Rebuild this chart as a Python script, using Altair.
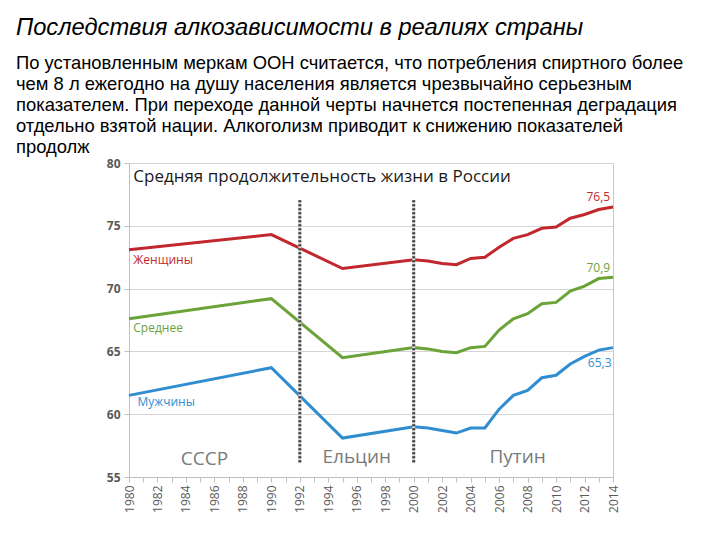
import altair as alt
import pandas as pd

# ---- data ----
years = [1980, 1990, 1995, 2000, 2001, 2002, 2003, 2004, 2005, 2006, 2007,
         2008, 2009, 2010, 2011, 2012, 2013, 2014]
women = [73.1, 74.3, 71.6, 72.3, 72.2, 72.0, 71.9, 72.4, 72.5, 73.3, 74.0,
         74.3, 74.8, 74.9, 75.6, 75.9, 76.3, 76.5]
average = [67.6, 69.2, 64.5, 65.3, 65.2, 65.0, 64.9, 65.3, 65.4, 66.7, 67.6,
           68.0, 68.8, 68.9, 69.8, 70.2, 70.8, 70.9]
men = [61.5, 63.7, 58.1, 59.0, 58.9, 58.7, 58.5, 58.9, 58.9, 60.4, 61.5,
       61.9, 62.9, 63.1, 64.0, 64.6, 65.1, 65.3]

series_names = ["Женщины", "Среднее", "Мужчины"]
series_colors = ["#c1272d", "#6aa338", "#2f8dd0"]
label_colors = ["#c23a4a", "#6a9a3c", "#3a8fc8"]

end_labels = ["76,5", "70,9", "65,3"]

era_names = ["СССР", "Ельцин", "Путин"]
era_x = [1985.3, 1996.0, 2007.3]
era_y = [55.95, 56.1, 56.15]

divider_years = [1992, 2000]

title_text = "Последствия алкозависимости в реалиях страны"
body_lines = [
    "По установленным меркам ООН считается, что потребления спиртного более",
    "чем 8 л ежегодно на душу населения является чрезвычайно серьезным",
    "показателем. При переходе данной черты начнется постепенная деградация",
    "отдельно взятой нации. Алкоголизм приводит к снижению показателей",
    "продолж",
]
chart_title = "Средняя продолжительность жизни в России"

# ---- tables ----
rows = []
for name, vals in zip(series_names, [women, average, men]):
    for y, v in zip(years, vals):
        rows.append({"year": y, "value": v, "series": name})
lines_df = pd.DataFrame(rows)

series_lbl_df = pd.DataFrame({
    "series": series_names,
    "x": [1980.3, 1980.3, 1980.6],
    "y": [71.95, 66.56, 60.65],
})
end_lbl_df = pd.DataFrame({
    "series": series_names,
    "text": end_labels,
    "x": [2013.8, 2013.8, 2013.9],
    "y": [76.96, 71.33, 63.73],
})
era_df = pd.DataFrame({"name": era_names, "x": era_x, "y": era_y})
div_df = pd.DataFrame({"year": divider_years, "y1": [77.04] * 2, "y2": [56.09] * 2})
ctitle_df = pd.DataFrame({"t": [chart_title], "x": [1980.3], "y": [78.47]})

FONT = "Open Sans"

xscale = alt.Scale(domain=[1980, 2014], nice=False, zero=False)
yscale = alt.Scale(domain=[55, 80], nice=False, zero=False)

color_scale = alt.Scale(domain=series_names, range=series_colors)
label_color_scale = alt.Scale(domain=series_names, range=label_colors)

X_AXIS = alt.Axis(values=list(range(1980, 2015)), title=None,
                  labelExpr="datum.value % 2 == 0 ? datum.label : ''",
                  format="d", labelAngle=270, labelAlign="right",
                  labelBaseline="middle", labelFontSize=12,
                  labelColor="#595959", labelFont=FONT,
                  labelOverlap=False, labelBound=False, labelFlush=False,
                  tickColor="#bfbfbf", tickSize=5,
                  domainColor="#bfbfbf", grid=False, labelPadding=3)
Y_AXIS = alt.Axis(values=[55, 60, 65, 70, 75, 80], title=None,
                  labelFontSize=12, labelFontWeight="bold",
                  labelColor="#595959", labelFont=FONT,
                  labelOverlap=False,
                  tickColor="#bfbfbf", tickSize=5,
                  domainColor="#bfbfbf", gridColor="#d4d4d4",
                  labelPadding=4)


def xenc(field):
    return alt.X(field, scale=xscale, axis=X_AXIS)


def yenc(field):
    return alt.Y(field, scale=yscale, axis=Y_AXIS)


lines = alt.Chart(lines_df).mark_line(strokeWidth=3).encode(
    x=xenc("year:Q"),
    y=yenc("value:Q"),
    color=alt.Color("series:N", scale=color_scale, legend=None),
    detail="series:N",
)

dividers_bg = alt.Chart(div_df).mark_rule(
    strokeWidth=3, color="#d9d9d9"
).encode(x=xenc("year:Q"), y=yenc("y1:Q"), y2="y2:Q")

dividers = alt.Chart(div_df).mark_rule(
    strokeWidth=3, color="#3c3c3c", strokeDash=[2, 2]
).encode(x=xenc("year:Q"), y=yenc("y1:Q"), y2="y2:Q")

series_lbls = alt.Chart(series_lbl_df).mark_text(
    align="left", baseline="alphabetic", fontSize=12, font=FONT
).encode(
    x=xenc("x:Q"), y=yenc("y:Q"),
    text="series:N",
    color=alt.Color("series:N", scale=label_color_scale, legend=None),
)

end_lbls = alt.Chart(end_lbl_df).mark_text(
    align="right", baseline="alphabetic", fontSize=12, font=FONT
).encode(
    x=xenc("x:Q"), y=yenc("y:Q"),
    text="text:N",
    color=alt.Color("series:N", scale=label_color_scale, legend=None),
)

eras = alt.Chart(era_df).mark_text(
    align="center", baseline="alphabetic", fontSize=19, font=FONT,
    color="#7a7a7a"
).encode(x=xenc("x:Q"), y=yenc("y:Q"), text="name:N")

ctitle = alt.Chart(ctitle_df).mark_text(
    align="left", baseline="alphabetic", fontSize=17, font=FONT,
    color="#1a1a1a"
).encode(x=xenc("x:Q"), y=yenc("y:Q"), text="t:N")

one = pd.DataFrame({"a": [0]})
slide_title = alt.Chart(one).mark_text(
    align="left", baseline="alphabetic", fontSize=23.7, fontStyle="italic",
    font="Liberation Sans", color="#000000"
).encode(x=alt.value(-113), y=alt.value(-128), text=alt.value(title_text))

body = alt.Chart(one).mark_text(
    align="left", baseline="alphabetic", fontSize=18.4, lineHeight=21,
    font="Liberation Sans", color="#000000"
).encode(x=alt.value(-113), y=alt.value(-94), text=alt.value(body_lines))

chart = alt.layer(
    lines, dividers_bg, dividers, series_lbls, end_lbls, eras, ctitle,
    slide_title, body
).properties(
    width=484, height=314,
    autosize=alt.AutoSizeParams(type="none"),
    padding={"left": 121, "top": 155, "right": 90, "bottom": 50},
).configure_view(
    stroke="#c8c8c8", strokeWidth=1
).configure_axis(
    labelOverlap=False, labelBound=False, labelFlush=False
)

chart.save("out.html", embed_options={"renderer": "svg", "actions": False})
